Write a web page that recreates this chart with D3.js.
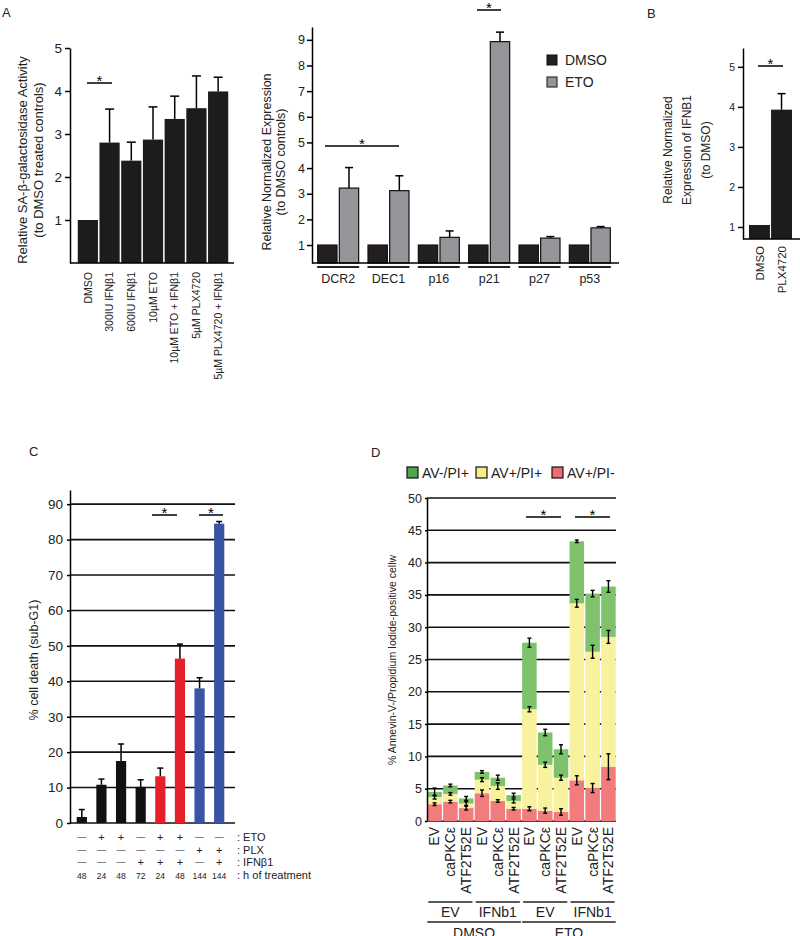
<!DOCTYPE html>
<html>
<head>
<meta charset="utf-8">
<script src="https://cdn.jsdelivr.net/npm/d3@7"></script>
<style>
  body { margin: 0; background: #fff; }
  svg { font-family: "Liberation Sans", Arial, sans-serif; }
</style>
</head>
<body>
<div id="chart"></div>
<script>
// ---- data ----
// A (left): SA-beta-gal activity
var senCats = ["DMSO", "300IU IFNβ1", "600IU IFNβ1", "10µM ETO", "10µM ETO + IFNβ1", "5µM PLX4720", "5µM PLX4720 + IFNβ1"];
var senVals = [1, 2.8, 2.38, 2.87, 3.35, 3.6, 3.99];
var senErr = [0, 0.78, 0.43, 0.76, 0.53, 0.75, 0.33];

// A (right): gene expression
var genes = ["DCR2", "DEC1", "p16", "p21", "p27", "p53"];
var treatments = ["DMSO", "ETO"];
var geneDmso = [1, 1, 1, 1, 1, 1];
var geneEto = [3.22, 3.12, 1.3, 8.93, 1.27, 1.67];
var geneEtoErr = [0.8, 0.58, 0.25, 0.37, 0.06, 0.05];

// B: IFNB1 expression
var ifnCats = ["DMSO", "PLX4720"];
var ifnVals = [1.05, 3.93];
var ifnErr = [0, 0.4];

// C: cell death
var deathVals = [1.7, 10.8, 17.5, 10.2, 13.2, 46.4, 38, 84.5];
var deathErr = [2.1, 1.6, 4.8, 2, 2.3, 4.1, 3, 0.6];
var deathKind = ["single", "single", "single", "single", "eto", "eto", "plx", "plx"];
var etoRow = ["—", "+", "+", "—", "+", "+", "—", "—"];
var plxRow = ["—", "—", "—", "—", "—", "—", "+", "+"];
var ifnRow = ["—", "—", "—", "+", "+", "+", "—", "+"];
var hoursRow = ["48", "24", "48", "72", "24", "48", "144", "144"];
var rowNames = [": ETO", ": PLX", ": IFNβ1", ": h of treatment"];

// D: annexin V / PI
var constructs = ["EV", "caPKCε", "ATF2T52E", "EV", "caPKCε", "ATF2T52E", "EV", "caPKCε", "ATF2T52E", "EV", "caPKCε", "ATF2T52E"];
var vectorGroups = ["EV", "IFNb1", "EV", "IFNb1"];
var drugGroups = ["DMSO", "ETO"];
var avPosPiNeg = [2.6, 3.0, 2.0, 4.3, 3.1, 1.9, 1.9, 1.6, 1.4, 6.3, 5.1, 8.4];
var avPosPiPos = [1.1, 1.2, 0.7, 2.1, 2.3, 1.2, 15.4, 7.1, 5.3, 27.4, 21.1, 20.1];
var avNegPiPos = [0.8, 1.3, 0.8, 1.2, 1.3, 0.9, 10.3, 5.0, 4.4, 9.6, 9.0, 7.8];
var errPiNeg = [0.2, 0.2, 0.3, 0.5, 0.2, 0.2, 0.3, 0.4, 0.5, 0.7, 0.7, 2.0];
var errPiPos = [0.3, 0.2, 0.3, 0.3, 0.5, 0.3, 0.4, 0.4, 0.4, 0.6, 1.0, 1.0];
var errNegPos = [0.6, 0.2, 0.3, 0.2, 0.4, 0.3, 0.7, 0.5, 0.7, 0.2, 0.5, 0.9];
var legendNames = ["AV-/PI+", "AV+/PI+", "AV+/PI-"];

var svg = d3.select("#chart").append("svg").attr("width", 800).attr("height", 936);

function styleAxis(g, fs) {
  g.select(".domain").attr("stroke", "#000").attr("stroke-width", 1.5);
  g.selectAll(".tick line").attr("stroke", "#000").attr("stroke-width", 1.5);
  g.selectAll(".tick text").attr("fill", "#222").style("font-size", fs + "px").style("font-family", "Liberation Sans, Arial, sans-serif");
}

function panelLetter(t, x, y) {
  svg.append("text").attr("x", x).attr("y", y).style("font-size", "13px").attr("fill", "#222").text(t);
}

function sigMark(x1, x2, y) {
  svg.append("line").attr("x1", x1).attr("x2", x2).attr("y1", y).attr("y2", y)
    .attr("stroke", "#000").attr("stroke-width", 1.5);
  svg.append("text").attr("x", (x1 + x2) / 2).attr("y", y + 3).attr("text-anchor", "middle")
    .style("font-size", "15px").text("*");
}

function errUp(g, cx, yTop, yErr, cap) {
  g.append("line").attr("x1", cx).attr("x2", cx).attr("y1", yTop).attr("y2", yErr)
    .attr("stroke", "#000").attr("stroke-width", 1.5);
  g.append("line").attr("x1", cx - cap / 2).attr("x2", cx + cap / 2).attr("y1", yErr).attr("y2", yErr)
    .attr("stroke", "#000").attr("stroke-width", 1.5);
}

function yLabel(lines, x0, dx, cy, fs) {
  lines.forEach(function(t, i) {
    svg.append("text")
      .attr("transform", "translate(" + (x0 + i * dx) + "," + cy + ") rotate(-90)")
      .attr("text-anchor", "middle").attr("dy", "0.35em")
      .style("font-size", fs + "px").attr("fill", "#222").text(t);
  });
}

// ===== Panel A left =====
panelLetter("A", 2, 17);
var xA = d3.scaleBand().domain(senCats).range([77, 229]).paddingInner(0.07).paddingOuter(0.035);
var yA = d3.scaleLinear().domain([0, 5]).range([263, 48]);
var gA = svg.append("g");
gA.selectAll("rect").data(senVals).join("rect")
  .attr("x", function(d, i) { return xA(senCats[i]); })
  .attr("y", function(d) { return yA(d); })
  .attr("width", xA.bandwidth())
  .attr("height", function(d) { return yA(0) - yA(d); })
  .attr("fill", "#1c1c1c");
senVals.forEach(function(v, i) {
  if (senErr[i] > 0) errUp(gA, xA(senCats[i]) + xA.bandwidth() / 2, yA(v), yA(v + senErr[i]), 9);
});
gA.append("g").attr("transform", "translate(70,0)")
  .call(d3.axisLeft(yA).tickValues([1, 2, 3, 4, 5]).tickSize(5).tickPadding(3).tickSizeOuter(0).tickFormat(d3.format("d")))
  .call(styleAxis, 13.5);
gA.append("line").attr("x1", 70).attr("x2", 234).attr("y1", 263).attr("y2", 263).attr("stroke", "#000").attr("stroke-width", 1.5);
gA.selectAll(".xl").data(senCats).join("text")
  .attr("transform", function(d) { return "translate(" + (xA(d) + xA.bandwidth() / 2) + ",272) rotate(-90)"; })
  .attr("text-anchor", "end").attr("dy", "0.35em").style("font-size", "10.5px").attr("fill", "#222")
  .text(function(d) { return d; });
yLabel(["Relative SA-β-galactosidase Activity", "(to DMSO treated controls)"], 22, 16, 160, 13);
sigMark(87, 112, 83);

// ===== Panel A right =====
var xG = d3.scaleBand().domain(genes).range([313, 615]);
var xT = d3.scaleBand().domain(treatments).range([-21, 21]).paddingInner(0.06);
var yG = d3.scaleLinear().domain([0.3, 9.5]).range([263, 27]);
var gG = svg.append("g");
var geneRows = genes.map(function(g, i) { return { gene: g, vals: [geneDmso[i], geneEto[i]] }; });
var gGroups = gG.selectAll(".grp").data(geneRows).join("g")
  .attr("transform", function(d) { return "translate(" + (xG(d.gene) + xG.bandwidth() / 2) + ",0)"; });
gGroups.selectAll("rect").data(function(d) { return d.vals; }).join("rect")
  .attr("x", function(d, i) { return xT(treatments[i]) + 0.5; })
  .attr("y", function(d) { return yG(d); })
  .attr("width", xT.bandwidth() - 1)
  .attr("height", function(d) { return yG(0.3) - yG(d); })
  .attr("fill", function(d, i) { return i === 0 ? "#231f20" : "#939598"; })
  .attr("stroke", "#111").attr("stroke-width", 1.2);
geneEto.forEach(function(v, i) {
  var cx = xG(genes[i]) + xG.bandwidth() / 2 + xT("ETO") + xT.bandwidth() / 2;
  errUp(gG, cx, yG(v), yG(v + geneEtoErr[i]), 8);
});
gG.append("g").attr("transform", "translate(312,0)")
  .call(d3.axisLeft(yG).tickValues([1, 2, 3, 4, 5, 6, 7, 8, 9]).tickSize(5).tickPadding(2).tickSizeOuter(0).tickFormat(d3.format("d")))
  .call(styleAxis, 12.5);
gG.append("line").attr("x1", 312).attr("x2", 619).attr("y1", 263).attr("y2", 263).attr("stroke", "#000").attr("stroke-width", 1.5);
gG.selectAll(".ul").data(genes).join("line")
  .attr("x1", function(d) { return xG(d) + xG.bandwidth() / 2 - 21; })
  .attr("x2", function(d) { return xG(d) + xG.bandwidth() / 2 + 21; })
  .attr("y1", 267).attr("y2", 267).attr("stroke", "#222").attr("stroke-width", 1.8);
gG.selectAll(".gl").data(genes).join("text")
  .attr("x", function(d) { return xG(d) + xG.bandwidth() / 2; }).attr("y", 283)
  .attr("text-anchor", "middle").style("font-size", "12.5px").attr("fill", "#222").text(function(d) { return d; });
yLabel(["Relative Normalized Expression", "(to DMSO controls)"], 267, 14, 162, 12.5);
sigMark(325, 399, 146);
sigMark(477, 501, 10);
treatments.forEach(function(t, i) {
  svg.append("rect").attr("x", 547).attr("y", 55 + i * 22).attr("width", 10).attr("height", 10)
    .attr("fill", i === 0 ? "#231f20" : "#939598").attr("stroke", "#111").attr("stroke-width", 1);
  svg.append("text").attr("x", 565).attr("y", 65 + i * 22).style("font-size", "14px").attr("fill", "#222").text(t);
});

// ===== Panel B =====
panelLetter("B", 647, 18);
var xB = d3.scaleBand().domain(ifnCats).range([749, 792]).paddingInner(0.05);
var yB = d3.scaleLinear().domain([0.7, 5.47]).range([239, 48]);
var gB = svg.append("g");
gB.selectAll("rect").data(ifnVals).join("rect")
  .attr("x", function(d, i) { return xB(ifnCats[i]); })
  .attr("y", function(d) { return yB(d); })
  .attr("width", xB.bandwidth())
  .attr("height", function(d) { return yB(0.7) - yB(d); })
  .attr("fill", "#1c1c1c");
ifnVals.forEach(function(v, i) {
  if (ifnErr[i] > 0) errUp(gB, xB(ifnCats[i]) + xB.bandwidth() / 2, yB(v), yB(v + ifnErr[i]), 8);
});
gB.append("g").attr("transform", "translate(743,0)")
  .call(d3.axisLeft(yB).tickValues([1, 2, 3, 4, 5]).tickSize(5).tickPadding(3).tickSizeOuter(0).tickFormat(d3.format("d")))
  .call(styleAxis, 10.5);
gB.append("line").attr("x1", 743).attr("x2", 800).attr("y1", 239).attr("y2", 239).attr("stroke", "#000").attr("stroke-width", 1.5);
gB.selectAll(".xl").data(ifnCats).join("text")
  .attr("transform", function(d) { return "translate(" + (xB(d) + xB.bandwidth() / 2) + ",246) rotate(-90)"; })
  .attr("text-anchor", "end").attr("dy", "0.35em").style("font-size", "11.5px").attr("fill", "#222")
  .text(function(d) { return d; });
yLabel(["Relative Normalized", "Expression of IFNB1", "(to DMSO)"], 668, 19, 150, 12);
sigMark(758, 783, 66);

// ===== Panel C =====
panelLetter("C", 29, 456);
var xC = d3.scaleBand().domain(d3.range(deathVals.length)).range([72, 229]).paddingInner(0.48).paddingOuter(0.24);
var yC = d3.scaleLinear().domain([0, 94]).range([823, 490]);
var colorC = { single: "#111111", eto: "#e5202a", plx: "#3a53a4" };
var gC = svg.append("g");
gC.selectAll(".grid").data(d3.range(0, 91, 10)).join("line")
  .attr("x1", 70).attr("x2", 235).attr("y1", function(d) { return yC(d); }).attr("y2", function(d) { return yC(d); })
  .attr("stroke", "#111").attr("stroke-width", 1.6);
gC.selectAll("rect").data(deathVals).join("rect")
  .attr("x", function(d, i) { return xC(i); })
  .attr("y", function(d) { return yC(d); })
  .attr("width", xC.bandwidth())
  .attr("height", function(d) { return yC(0) - yC(d); })
  .attr("fill", function(d, i) { return colorC[deathKind[i]]; });
deathVals.forEach(function(v, i) {
  errUp(gC, xC(i) + xC.bandwidth() / 2, yC(v), yC(v + deathErr[i]), 6);
});
gC.append("g").attr("transform", "translate(70,0)")
  .call(d3.axisLeft(yC).tickValues(d3.range(0, 91, 10)).tickSize(3).tickPadding(4).tickSizeOuter(0))
  .call(styleAxis, 13.5);
yLabel(["% cell death (sub-G1)"], 34, 0, 660, 12.5);
sigMark(152, 177, 515);
sigMark(199, 223, 515);
var condRows = [etoRow, plxRow, ifnRow, hoursRow];
var rowY = [841, 854, 866, 879];
condRows.forEach(function(row, r) {
  gC.selectAll(".r" + r).data(row).join("text")
    .attr("x", function(d, i) { return xC(i) + xC.bandwidth() / 2; })
    .attr("y", function(d) { return d === "—" ? rowY[r] - 1.5 : rowY[r]; })
    .attr("text-anchor", "middle")
    .style("font-size", function(d) { return r === 3 ? "8.5px" : (d === "+" ? "11px" : "9px"); })
    .attr("fill", "#222")
    .text(function(d) { return d; });
  gC.append("text").attr("x", 237).attr("y", rowY[r]).style("font-size", "11px").attr("fill", "#222").text(rowNames[r]);
});

// ===== Panel D =====
panelLetter("D", 371, 457);
var xD = d3.scaleBand().domain(d3.range(constructs.length)).range([427, 616]).paddingInner(0.08).paddingOuter(0.02);
var yD = d3.scaleLinear().domain([0, 50]).range([821, 498]);
var stackKeys = ["neg", "pos", "late"];
var colorD = { neg: "#f27b7b", pos: "#f8f19e", late: "#7ec36c" };
var legendColor = ["#4da64b", "#f6ee8a", "#ee6b6f"];
var errD = { neg: errPiNeg, pos: errPiPos, late: errNegPos };
var rowsD = constructs.map(function(c, i) { return { neg: avPosPiNeg[i], pos: avPosPiPos[i], late: avNegPiPos[i] }; });
var seriesD = d3.stack().keys(stackKeys)(rowsD);
var gD = svg.append("g");
gD.selectAll(".grid").data(d3.range(0, 51, 5)).join("line")
  .attr("x1", 427).attr("x2", 616).attr("y1", function(d) { return yD(d); }).attr("y2", function(d) { return yD(d); })
  .attr("stroke", "#111").attr("stroke-width", 1.6);
gD.selectAll(".ser").data(seriesD).join("g")
  .attr("fill", function(s) { return colorD[s.key]; })
  .selectAll("rect").data(function(s) { return s; }).join("rect")
  .attr("x", function(d, i) { return xD(i); })
  .attr("y", function(d) { return yD(d[1]); })
  .attr("width", xD.bandwidth())
  .attr("height", function(d) { return yD(d[0]) - yD(d[1]); });
seriesD.forEach(function(s) {
  s.forEach(function(d, i) {
    var cx = xD(i) + xD.bandwidth() / 2, e = errD[s.key][i];
    gD.append("line").attr("x1", cx).attr("x2", cx).attr("y1", yD(d[1] - e)).attr("y2", yD(d[1] + e))
      .attr("stroke", "#000").attr("stroke-width", 1.4);
    [d[1] - e, d[1] + e].forEach(function(v) {
      gD.append("line").attr("x1", cx - 2).attr("x2", cx + 2).attr("y1", yD(v)).attr("y2", yD(v))
        .attr("stroke", "#000").attr("stroke-width", 1.4);
    });
  });
});
gD.append("g").attr("transform", "translate(427,0)")
  .call(d3.axisLeft(yD).tickValues(d3.range(0, 51, 5)).tickSize(2).tickPadding(3).tickSizeOuter(0))
  .call(styleAxis, 12.5);
gD.selectAll(".xl").data(constructs).join("text")
  .attr("transform", function(d, i) { return "translate(" + (xD(i) + xD.bandwidth() / 2) + ",827) rotate(-90)"; })
  .attr("text-anchor", "end").attr("dy", "0.35em").style("font-size", "14px").attr("fill", "#222")
  .text(function(d) { return d; });
vectorGroups.forEach(function(g, k) {
  var x1 = xD(3 * k) + 1, x2 = xD(3 * k + 2) + xD.bandwidth() - 1;
  gD.append("line").attr("x1", x1).attr("x2", x2).attr("y1", 902).attr("y2", 902).attr("stroke", "#222").attr("stroke-width", 1.6);
  gD.append("text").attr("x", (x1 + x2) / 2).attr("y", 917).attr("text-anchor", "middle").style("font-size", "14px").attr("fill", "#222").text(g);
});
drugGroups.forEach(function(g, k) {
  var x1 = xD(6 * k), x2 = xD(6 * k + 5) + xD.bandwidth();
  gD.append("line").attr("x1", x1).attr("x2", x2).attr("y1", 922).attr("y2", 922).attr("stroke", "#222").attr("stroke-width", 1.6);
  gD.append("text").attr("x", (x1 + x2) / 2).attr("y", 938).attr("text-anchor", "middle").style("font-size", "14px").attr("fill", "#222").text(g);
});
yLabel(["% Annevin-V-/Propidium Iodide-positive cellw"], 392, 0, 660, 10.5);
sigMark(526, 561, 517);
sigMark(575, 610, 517);
var legX = [407, 476, 552];
legendNames.forEach(function(t, i) {
  svg.append("rect").attr("x", legX[i]).attr("y", 467).attr("width", 11).attr("height", 11)
    .attr("fill", legendColor[i]).attr("stroke", "#111").attr("stroke-width", 1.2);
  svg.append("text").attr("x", legX[i] + 15).attr("y", 478).style("font-size", "14px").attr("fill", "#222").text(t);
});
</script>
</body>
</html>
